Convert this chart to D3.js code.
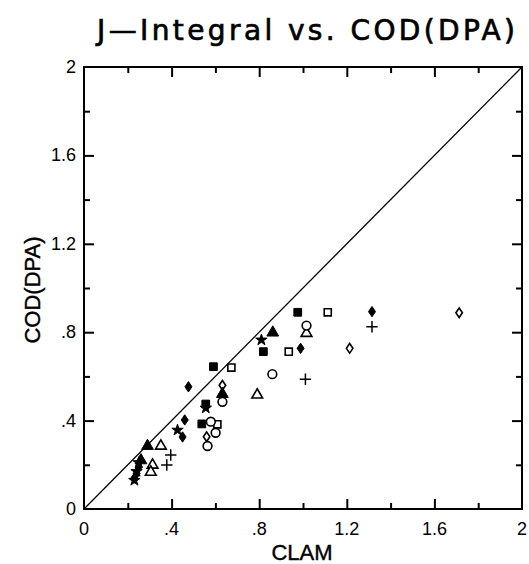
<!DOCTYPE html>
<html>
<head>
<meta charset="utf-8">
<script src="https://cdn.jsdelivr.net/npm/d3@7"></script>
<style>
  body { margin: 0; background: #fff; }
  svg { display: block; }
  text { font-family: "Liberation Sans", Arial, sans-serif; fill: #000; }
</style>
</head>
<body>
<svg id="chart" width="529" height="564"></svg>
<script>
// Data: [CLAM, COD(DPA)] grouped by marker type
const filledDiamond = [[0.477, 0.553], [0.46, 0.403], [0.45, 0.326], [0.989, 0.727], [1.315, 0.893],
                       [0.25, 0.19], [0.24, 0.16], [0.23, 0.14]];
const openDiamond = [[0.632, 0.56], [0.56, 0.327], [1.213, 0.727], [1.713, 0.888]];
const filledSquare = [[0.591, 0.644], [0.556, 0.475], [0.538, 0.385], [0.819, 0.712], [0.976, 0.89]];
const openSquare = [[0.673, 0.64], [0.609, 0.383], [0.935, 0.712], [1.113, 0.89]];
const filledTriangle = [[0.29, 0.285], [0.632, 0.52], [0.862, 0.798], [0.26, 0.22]];
const openTriangle = [[0.351, 0.285], [0.313, 0.199], [0.305, 0.167], [0.791, 0.516], [1.016, 0.795]];
const openCircle = [[0.579, 0.395], [0.601, 0.345], [0.564, 0.285], [0.632, 0.485], [0.86, 0.61], [1.016, 0.83]];
const plusPts = [[0.396, 0.244], [0.378, 0.199], [1.011, 0.587], [1.315, 0.825]];
const starPts = [[0.556, 0.457], [0.427, 0.357], [0.81, 0.765], [0.25, 0.21], [0.24, 0.17], [0.23, 0.13]];

const majorTicks = [0, 0.4, 0.8, 1.2, 1.6, 2];
const tickLabels = ["0", ".4", ".8", "1.2", "1.6", "2"];
const innerMajor = [0.4, 0.8, 1.2, 1.6];
const minorTicks = [0.2, 0.6, 1.0, 1.4, 1.8];
const diagonal = [[0, 0], [2, 2]];

const svg = d3.select("#chart");

const x = d3.scaleLinear().domain([0, 2]).range([84, 522]);
const y = d3.scaleLinear().domain([0, 2]).range([509, 67]);

// title
svg.append("text")
    .attr("x", 97).attr("y", 40)
    .attr("textLength", 418).attr("lengthAdjust", "spacing")
    .style("font-family", "'DejaVu Sans', sans-serif")
    .style("font-size", "28px")
    .style("stroke", "#000").style("stroke-width", 0.7)
    .text("J\u2014Integral vs. COD(DPA)");

// frame
svg.append("rect")
    .attr("x", x(0)).attr("y", y(2))
    .attr("width", x(2) - x(0)).attr("height", y(0) - y(2))
    .attr("fill", "none").attr("stroke", "#000").attr("stroke-width", 2);

// inward ticks on all four sides, built with d3 axes
function sideAxes(vals, len) {
    const h = y(0) - y(2), w = x(2) - x(0);
    svg.append("g").attr("transform", `translate(0,${y(0)})`)
        .call(d3.axisTop(x).tickValues(vals).tickSize(len).tickFormat(""));
    svg.append("g").attr("transform", `translate(0,${y(2)})`)
        .call(d3.axisBottom(x).tickValues(vals).tickSize(len).tickFormat(""));
    svg.append("g").attr("transform", `translate(${x(0)},0)`)
        .call(d3.axisRight(y).tickValues(vals).tickSize(len).tickFormat(""));
    svg.append("g").attr("transform", `translate(${x(2)},0)`)
        .call(d3.axisLeft(y).tickValues(vals).tickSize(len).tickFormat(""));
}
sideAxes(innerMajor, 10);
sideAxes(minorTicks, 6);
svg.selectAll(".domain").remove();
svg.selectAll(".tick line").attr("stroke", "#000").attr("stroke-width", 2);

// tick labels
svg.append("g").selectAll("text").data(majorTicks).join("text")
    .attr("x", d => x(d)).attr("y", 535)
    .attr("text-anchor", "middle")
    .style("font-size", "18px")
    .text((d, i) => tickLabels[i]);
svg.append("g").selectAll("text").data(majorTicks).join("text")
    .attr("x", 76).attr("y", d => y(d) + 6)
    .attr("text-anchor", "end")
    .style("font-size", "18px")
    .text((d, i) => tickLabels[i]);

// axis titles
svg.append("text")
    .attr("x", 302).attr("y", 560)
    .attr("text-anchor", "middle")
    .style("font-size", "22px")
    .style("stroke", "#000").style("stroke-width", 0.4)
    .text("CLAM");
svg.append("text")
    .attr("transform", "translate(40,290) rotate(-90)")
    .attr("text-anchor", "middle")
    .style("font-size", "22px")
    .style("stroke", "#000").style("stroke-width", 0.4)
    .text("COD(DPA)");

// y = x reference line
svg.append("path")
    .attr("d", d3.line().x(d => x(d[0])).y(d => y(d[1]))(diagonal))
    .attr("fill", "none").attr("stroke", "#000").attr("stroke-width", 1.3);

// markers
const g = svg.append("g");
function plot(data, shape, filled, size, sw) {
    const sym = d3.symbol().type(shape).size(size);
    g.append("g").selectAll("path").data(data).join("path")
        .attr("d", sym)
        .attr("transform", d => `translate(${x(d[0])},${y(d[1])})`)
        .attr("fill", filled ? "#000" : "#fff")
        .attr("stroke", "#000")
        .attr("stroke-width", sw || (filled ? 1 : 1.6));
}
const diamondShape = {
    draw(ctx, size) {
        const w = Math.sqrt(size) * 0.42, h = Math.sqrt(size) * 0.62;
        ctx.moveTo(0, -h); ctx.lineTo(w, 0); ctx.lineTo(0, h); ctx.lineTo(-w, 0); ctx.closePath();
    }
};
const plusShape = {
    draw(ctx, size) {
        const r = Math.sqrt(size) / 2;
        ctx.moveTo(-r, 0); ctx.lineTo(r, 0); ctx.moveTo(0, -r); ctx.lineTo(0, r);
    }
};
plot(filledDiamond, diamondShape, true, 70);
plot(openDiamond, diamondShape, false, 60);
plot(filledSquare, d3.symbolSquare, true, 60);
plot(openSquare, d3.symbolSquare, false, 50);
plot(filledTriangle, d3.symbolTriangle, true, 60);
plot(openTriangle, d3.symbolTriangle, false, 50);
plot(openCircle, d3.symbolCircle, false, 60);
plot(plusPts, plusShape, false, 130, 1.5);
plot(starPts, d3.symbolStar, true, 40);
</script>
</body>
</html>
